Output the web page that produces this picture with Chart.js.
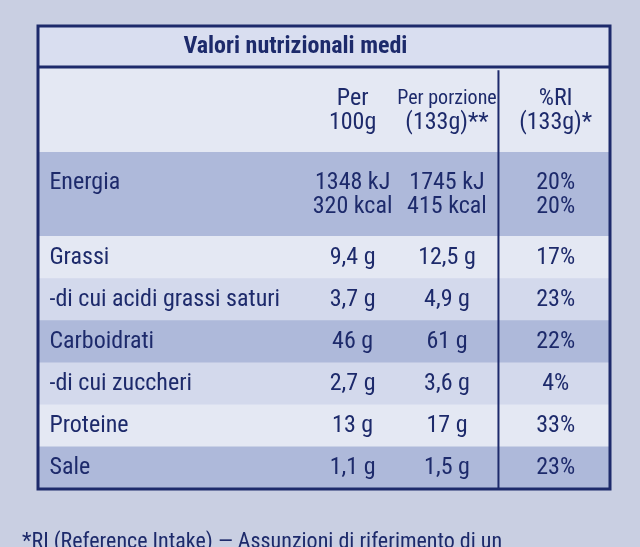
<!DOCTYPE html>
<html><head><meta charset="utf-8">
<script src="https://cdn.jsdelivr.net/npm/chart.js@4"></script>
<style>html,body{margin:0;background:#c9cfe2;}canvas{display:block}</style>
</head><body>
<div style="width:640px;height:547px;position:relative"><canvas id="c" width="640" height="547"></canvas></div>
<script>
const title = "Valori nutrizionali medi";
const rowLabels = ["", "", "", "Energia", "", "Grassi", "-di cui acidi grassi saturi", "Carboidrati", "-di cui zuccheri", "Proteine", "Sale"];
const per100 = ["Per", "100g", "", "1348 kJ", "320 kcal", "9,4 g", "3,7 g", "46 g", "2,7 g", "13 g", "1,1 g"];
const perPorzione = ["Per porzione", "(133g)**", "", "1745 kJ", "415 kcal", "12,5 g", "4,9 g", "61 g", "3,6 g", "17 g", "1,5 g"];
const ri = ["%RI", "(133g)*", "", "20%", "20%", "17%", "23%", "22%", "4%", "33%", "23%"];
const footer = "*RI (Reference Intake) — Assunzioni di riferimento di un";
const labelsY = ["t","h1","h2","e1","e2","g","s","c","z","p","sa"];
const bandShade = [3,0,0,1,1,0,2,1,2,0,1];
const idx = [null,0,1,3,4,5,6,7,8,9,10];
const bandColors = {0:"#e4e8f3",1:"#aeb9da",2:"#d3d9ec",3:"#d9def0"};
const ink = "#1d2a6b";
const F = "'Liberation Sans Narrow','Roboto Condensed','DejaVu Sans Condensed',sans-serif";
// small vertical nudges for paired rows (header / energia)
const nudge = [0,10,-8,10,-8,0,0,0,0,0,0];

const textPlugin = {
  id:'txt',
  afterDraw(chart){
    const ctx=chart.ctx, xs=chart.scales.x, ys=chart.scales.y, a=chart.chartArea;
    const X=f=>xs.getPixelForValue(f);
    ctx.save();
    ctx.strokeStyle=ink; ctx.lineWidth=2;
    ctx.beginPath(); ctx.moveTo(X(0.805), ys.getPixelForValue(1)-19); ctx.lineTo(X(0.805), a.bottom); ctx.stroke();
    ctx.lineWidth=3;
    ctx.strokeRect(a.left,a.top,a.right-a.left,a.bottom-a.top);
    ctx.beginPath(); ctx.moveTo(a.left, ys.getPixelForValue(0)+20); ctx.lineTo(a.right, ys.getPixelForValue(0)+20); ctx.stroke();
    ctx.fillStyle=ink; ctx.textBaseline='middle';
    ctx.font="bold 24px "+F; ctx.textAlign='center';
    ctx.fillText(title, X(0.45), ys.getPixelForValue(0));
    for(let r=1;r<labelsY.length;r++){
      const i=idx[r], y=ys.getPixelForValue(r)+nudge[r];
      ctx.font="24px "+F;
      ctx.textAlign='left'; if(rowLabels[i]) ctx.fillText(rowLabels[i], X(0.02), y);
      ctx.textAlign='center';
      ctx.fillText(per100[i], X(0.55), y);
      ctx.font=(i===0?"20px ":"24px ")+F;
      ctx.fillText(perPorzione[i], X(0.715), y);
      ctx.font="24px "+F;
      ctx.fillText(ri[i], X(0.905), y);
    }
    ctx.font="22px "+F; ctx.textAlign='left';
    ctx.fillText(footer, 22, 542);
    ctx.restore();
  }
};

new Chart(document.getElementById('c'),{
  type:'bar',
  data:{labels:labelsY,datasets:[{
    data:labelsY.map(()=>[0,1]),
    backgroundColor:bandShade.map(s=>bandColors[s]),
    borderWidth:0,barPercentage:1,categoryPercentage:1
  }]},
  options:{
    indexAxis:'y',responsive:false,animation:false,
    layout:{padding:{left:38,right:30,top:26,bottom:58}},
    plugins:{legend:{display:false},tooltip:{enabled:false}},
    scales:{x:{min:0,max:1,display:false},y:{display:false,offset:true}}
  },
  plugins:[textPlugin]
});
</script>
</body></html>
